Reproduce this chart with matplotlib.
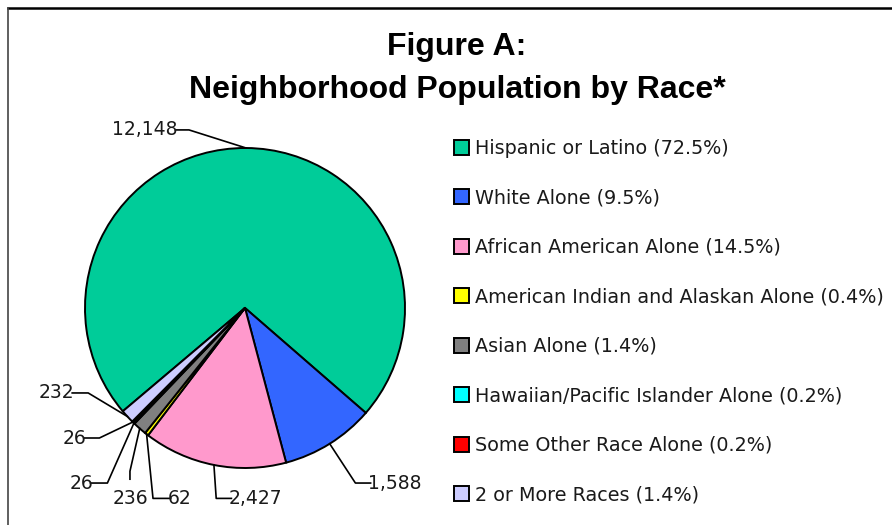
import matplotlib.pyplot as plt
from matplotlib.lines import Line2D
import numpy as np

races = ['Hispanic or Latino', 'White Alone', 'African American Alone',
         'American Indian and Alaskan Alone', 'Asian Alone',
         'Hawaiian/Pacific Islander Alone', 'Some Other Race Alone',
         '2 or More Races']
counts = [12148, 1588, 2427, 62, 236, 26, 26, 232]
pcts = ['72.5%', '9.5%', '14.5%', '0.4%', '1.4%', '0.2%', '0.2%', '1.4%']
colors = ['#00CC99', '#3366FF', '#FF99CC', '#FFFF00', '#808080',
          '#00FFFF', '#FF0000', '#CCCCFF']

# label layout: (text x, text y, ha, elbow x, elbow y) in pie units
label_pos = [(-0.42, 1.113, 'right', -0.35, 1.113),
             (0.77, -1.094, 'left', 0.69, -1.094),
             (-0.10, -1.19, 'left', -0.18, -1.19),
             (-0.48, -1.19, 'left', -0.575, -1.19),
             (-0.719, -1.19, 'center', -0.719, -1.02),
             (-0.95, -1.094, 'right', -0.86, -1.094),
             (-0.99, -0.8125, 'right', -0.91, -0.8125),
             (-1.065, -0.531, 'right', -0.98, -0.531)]

font = 'DejaVu Sans'
txtcol = '#1a1a1a'

fig = plt.figure(figsize=(8.92, 5.25), dpi=100)
ax = fig.add_axes([85/892, 57/525, 320/892, 320/525])

wedges, _ = ax.pie(counts, colors=colors, startangle=220.2, counterclock=False,
                   wedgeprops=dict(edgecolor='black', linewidth=1.4))
ax.set_xlim(-1, 1)
ax.set_ylim(-1, 1)
ax.set_aspect('equal')

for w, n, (tx, ty, ha, ex, ey) in zip(wedges, counts, label_pos):
    mid = np.deg2rad((w.theta1 + w.theta2) / 2)
    px, py = np.cos(mid), np.sin(mid)
    if ha == 'center':
        ax.plot([px, ex, ex], [py, ey, ey - 0.05], color='black', lw=1.2, clip_on=False)
    else:
        ax.plot([px, ex, tx + (0.015 if ha == 'left' else -0.015)], [py, ey, ty],
                color='black', lw=1.2, clip_on=False)
    ax.text(tx, ty, f'{n:,}', ha=ha, va='center', fontsize=13.5, family=font,
            color=txtcol)

leg_labels = [f'{r} ({p})' for r, p in zip(races, pcts)]
leg = ax.legend(wedges, leg_labels, loc='upper left', bbox_to_anchor=(454/892, 1 - 139/525),
                bbox_transform=fig.transFigure, frameon=False,
                prop={'family': font, 'size': 13.8}, handlelength=0.8, handleheight=0.8,
                handletextpad=0.3, labelspacing=1.59, borderpad=0, borderaxespad=0)
for t in leg.get_texts():
    t.set_color(txtcol)

fig.text(457/892, 1 - 47/525, 'Figure A:', ha='center', va='center', fontsize=23,
         fontweight='bold', family='Liberation Sans')
fig.text(457/892, 1 - 90/525, 'Neighborhood Population by Race*', ha='center',
         va='center', fontsize=23, fontweight='bold', family='Liberation Sans')

# cropped chart frame
fig.add_artist(Line2D([8/892, 1], [1 - 8/525, 1 - 8/525], color='black', lw=1.8))
fig.add_artist(Line2D([8/892, 8/892], [0, 1 - 8/525], color='#444444', lw=1.2))

plt.savefig('out.png', dpi=100)
